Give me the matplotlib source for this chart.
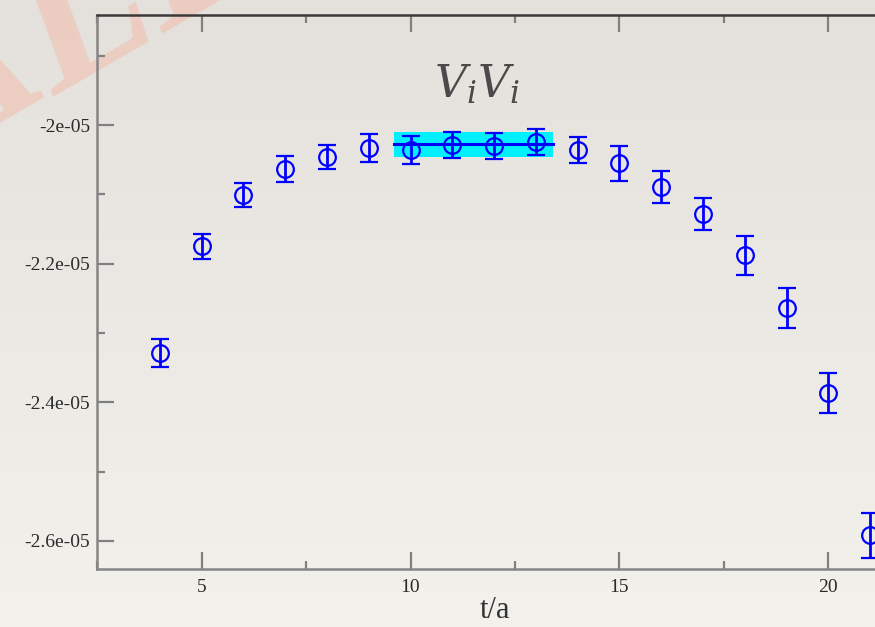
import numpy as np
import matplotlib.pyplot as plt
from matplotlib.ticker import MultipleLocator, FixedLocator

# data
t = [4, 5, 6, 7, 8, 9, 10, 11, 12, 13, 14, 15, 16, 17, 18, 19, 20, 21]
vv = [-2.329e-05, -2.175e-05, -2.101e-05, -2.0635e-05, -2.046e-05, -2.033e-05,
      -2.036e-05, -2.029e-05, -2.030e-05, -2.0245e-05, -2.036e-05, -2.055e-05,
      -2.0895e-05, -2.128e-05, -2.188e-05, -2.264e-05, -2.387e-05, -2.592e-05]
err = [0.20e-06, 0.18e-06, 0.17e-06, 0.19e-06, 0.17e-06, 0.20e-06,
       0.20e-06, 0.19e-06, 0.19e-06, 0.19e-06, 0.19e-06, 0.25e-06,
       0.23e-06, 0.23e-06, 0.28e-06, 0.29e-06, 0.29e-06, 0.32e-06]

fit_range = [9.6, 13.4]
fit_val = -2.0274e-05
fit_err = 0.18e-06

yticks = [-2.0e-05, -2.2e-05, -2.4e-05, -2.6e-05]
ylabels = ["-2e-05", "-2.2e-05", "-2.4e-05", "-2.6e-05"]
xticks = [5, 10, 15, 20]

plt.rcParams["mathtext.fontset"] = "dejavuserif"

fig = plt.figure(figsize=(8.75, 6.27), dpi=100)

# paper-like background
bg = fig.add_axes([0, 0, 1, 1], zorder=-10)
grad = np.linspace(0, 1, 256).reshape(-1, 1)
c_top = np.array([228, 225, 221]) / 255
c_bot = np.array([243, 241, 236]) / 255
img = c_top + (c_bot - c_top) * grad[:, :, None]
bg.imshow(img, aspect="auto", extent=[0, 1, 0, 1])
bg.axis("off")

# watermark remnant (mostly outside the slide area, as in the original)
wm = dict(fontsize=150, family="Liberation Serif", style="italic",
          weight="bold", color="#f0c4b6", alpha=0.7, rotation=30,
          rotation_mode="anchor", va="baseline", zorder=-5)
fig.text(0.062, 0.845, "A", ha="right", **wm)
fig.text(0.062, 0.845, "LE", ha="left", **wm)

ax = fig.add_axes([0.111, 0.0925, 0.9097, 0.8835])
ax.patch.set_alpha(0)

ax.fill_between(fit_range, fit_val - fit_err, fit_val + fit_err,
                color="#00f0ff", zorder=1, linewidth=0)
ax.plot(fit_range, [fit_val, fit_val], color="#0000ff", lw=2.2, zorder=2)

ax.errorbar(t, vv, yerr=err, fmt="o", color="#0000ff", mfc="none",
            ms=12, mew=1.6, elinewidth=2.0, capsize=6.5, capthick=2.5,
            zorder=3, clip_on=False)

ax.set_xlim(2.5, 21.55)
ax.set_ylim(-2.6404e-05, -1.8413e-05)

ax.xaxis.set_major_locator(FixedLocator(xticks))
ax.xaxis.set_minor_locator(MultipleLocator(2.5))
ax.set_yticks(yticks)
ax.set_yticklabels(ylabels)
ax.yaxis.set_minor_locator(MultipleLocator(1e-06))

for s in ["left", "bottom"]:
    ax.spines[s].set_color("#858585")
    ax.spines[s].set_linewidth(1.8)
ax.spines["top"].set_color("#3a3a3a")
ax.spines["top"].set_linewidth(1.8)
ax.spines["right"].set_visible(False)

ax.tick_params(which="both", direction="in", top=True, right=False,
               color="#808080", width=1.6)
ax.tick_params(which="major", length=12)
ax.tick_params(axis="y", which="major", pad=5)
ax.tick_params(axis="x", which="major", pad=7)
ax.tick_params(which="minor", length=6)
for lab in ax.get_xticklabels() + ax.get_yticklabels():
    lab.set_family("Liberation Serif")
    lab.set_fontsize(14)
    lab.set_color("#2a2a2a")

ax.set_xlabel("t/a", family="Liberation Serif", fontsize=22, color="#333333",
              labelpad=0)

fig.text(0.545, 0.866, r"$V_iV_i$", fontsize=32, color="#4a4a4a",
         ha="center", va="center")

plt.savefig("out.png", dpi=100)
